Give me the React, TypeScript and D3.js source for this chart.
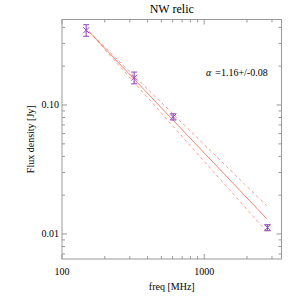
import React from 'react';
import * as d3 from 'd3';

// measured flux densities of the NW relic
const freqs = [148, 322, 606, 2790];
const fluxes = [0.38, 0.163, 0.081, 0.0112];
const fluxErrs = [0.039, 0.017, 0.0045, 0.0006];

// power-law fit
const alpha = 1.16;
const alphaErr = 0.08;
const fitNorm = 0.37;
const fitRefFreq = 155;
const fitRange = [155, 2750];

const xTickLabels = [100, 1000];
const yTickLabels = ['0.01', '0.10'];

const W = 300;
const H = 300;
const margin = { top: 19.5, right: 18.5, bottom: 41, left: 62 };

const App: React.FC = () => {
  const x = d3.scaleLog().domain([100, 3500]).range([margin.left, W - margin.right]);
  const y = d3.scaleLog().domain([0.0064, 0.46]).range([H - margin.bottom, margin.top]);

  const [x0, x1] = x.range();
  const [y0, y1] = y.range();

  const xMinor: number[] = [];
  for (const dec of [100, 1000]) for (let k = 1; k <= 9; k++) {
    const v = dec * k;
    if (v >= 100 && v <= 3500) xMinor.push(v);
  }
  const yMinor: number[] = [];
  for (const dec of [0.001, 0.01, 0.1]) for (let k = 1; k <= 9; k++) {
    const v = dec * k;
    if (v >= 0.0064 && v <= 0.46) yMinor.push(v);
  }
  const isMajor = (v: number) => Math.abs(Math.log10(v) - Math.round(Math.log10(v))) < 1e-6;

  const fitLine = (a: number) => {
    const pts = d3.range(0, 21).map(i => {
      const f = fitRange[0] * Math.pow(fitRange[1] / fitRange[0], i / 20);
      return [f, fitNorm * Math.pow(f / fitRefFreq, -a)] as [number, number];
    });
    return d3.line<[number, number]>().x(d => x(d[0])).y(d => y(d[1]))(pts) || '';
  };

  const frame = '#999';
  const lineColor = '#f7836f';
  const dashColor = '#f99a8a';
  const markColor = '#9040c0';

  return (
    <svg width={W} height={H} style={{ position: 'absolute', left: 0, top: 0, background: '#fff' }}
      fontFamily="'Liberation Serif', 'DejaVu Serif', serif">
      <text x={(x0 + x1) / 2} y={13} textAnchor="middle" fontSize={12}>NW relic</text>

      <rect x={x0} y={y1} width={x1 - x0} height={y0 - y1} fill="none" stroke={frame} strokeWidth={1} />

      {/* x ticks, bottom and top */}
      {xMinor.map((v, i) => {
        const len = isMajor(v) ? 5 : 3;
        return (
          <g key={'xt' + i} stroke={frame}>
            <line x1={x(v)} x2={x(v)} y1={y0} y2={y0 - len} />
            <line x1={x(v)} x2={x(v)} y1={y1} y2={y1 + len} />
          </g>
        );
      })}
      {/* y ticks, left and right */}
      {yMinor.map((v, i) => {
        const len = isMajor(v) ? 5 : 3;
        return (
          <g key={'yt' + i} stroke={frame}>
            <line x1={x0} x2={x0 + len} y1={y(v)} y2={y(v)} />
            <line x1={x1} x2={x1 - len} y1={y(v)} y2={y(v)} />
          </g>
        );
      })}

      {xTickLabels.map(v => (
        <text key={'xl' + v} x={x(v)} y={y0 + 16} textAnchor="middle" fontSize={10}>{v}</text>
      ))}
      {yTickLabels.map(v => (
        <text key={'yl' + v} x={x0 - 3} y={y(+v) + 3.5} textAnchor="end" fontSize={10}>{v}</text>
      ))}

      <text x={(x0 + x1) / 2} y={290} textAnchor="middle" fontSize={10}>freq [MHz]</text>
      <text transform={`translate(34,${(y0 + y1) / 2}) rotate(-90)`} textAnchor="middle" fontSize={10}>
        Flux density [Jy]
      </text>

      {/* fit and its uncertainty */}
      <path d={fitLine(alpha - alphaErr)} fill="none" stroke={dashColor} strokeWidth={1} strokeDasharray="3,3" />
      <path d={fitLine(alpha + alphaErr)} fill="none" stroke={dashColor} strokeWidth={1} strokeDasharray="3,3" />
      <path d={fitLine(alpha)} fill="none" stroke={lineColor} strokeWidth={1} />

      {/* data points */}
      {freqs.map((f, i) => {
        const cx = x(f);
        const cy = y(fluxes[i]);
        const ya = y(fluxes[i] + fluxErrs[i]);
        const yb = y(fluxes[i] - fluxErrs[i]);
        const s = 3;
        return (
          <g key={'p' + i} stroke={markColor} strokeWidth={1} fill="none">
            <line x1={cx} x2={cx} y1={ya} y2={yb} />
            <line x1={cx - 3} x2={cx + 3} y1={ya} y2={ya} />
            <line x1={cx - 3} x2={cx + 3} y1={yb} y2={yb} />
            <line x1={cx - s} x2={cx + s} y1={cy - s} y2={cy + s} />
            <line x1={cx - s} x2={cx + s} y1={cy + s} y2={cy - s} />
          </g>
        );
      })}

      <text x={206} y={76} fontSize={10}>
        <tspan fontStyle="italic">α</tspan>
        <tspan dx={4}>=1.16+/-0.08</tspan>
      </text>
    </svg>
  );
};

export default App;
